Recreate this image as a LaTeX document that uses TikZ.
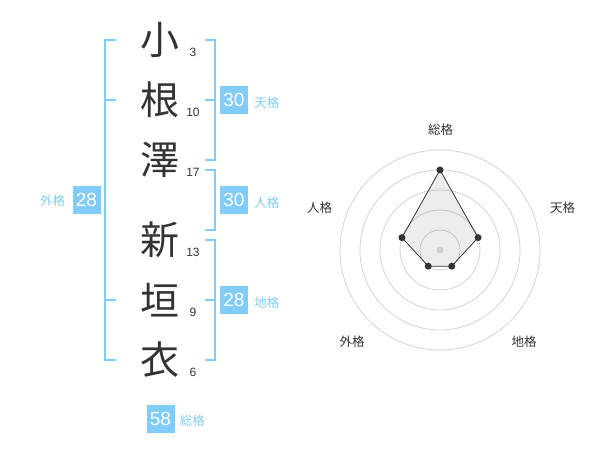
\documentclass[tikz,border=0pt]{standalone}
\usepackage{fontspec}
\setmainfont{Liberation Sans}
\newfontfamily\jpfont{Noto Sans CJK JP}
\usetikzlibrary{positioning}
\definecolor{kakublue}{RGB}{128,204,250}
\definecolor{inkgray}{RGB}{51,51,51}
\definecolor{ringgray}{RGB}{210,210,210}

\begin{document}
\begin{tikzpicture}[x=1pt,y=-1pt]

%
% Styles
%
\tikzstyle{kanji}   = [font=\jpfont\fontsize{39}{39}\selectfont,text=inkgray,inner sep=0pt]
\tikzstyle{strokes} = [font=\fontsize{12}{12}\selectfont,text=inkgray,inner sep=0pt]
\tikzstyle{score}   = [fill=kakublue,text=white,minimum size=28pt,inner sep=0pt,font=\fontsize{19}{19}\selectfont]
\tikzstyle{kaku}    = [text=kakublue,font=\jpfont\fontsize{12.5}{12.5}\selectfont,inner sep=0pt]
\tikzstyle{bracket} = [draw=kakublue,line width=2pt]
\tikzstyle{ring}    = [draw=ringgray,line width=0.8pt]
\tikzstyle{dot}     = [circle,fill=inkgray,minimum size=7pt,inner sep=0pt]
\tikzstyle{axis}    = [text=inkgray,font=\jpfont\fontsize{12.5}{12.5}\selectfont,inner sep=0pt]

\useasboundingbox (0,0) rectangle (600,470);

% name
\node[kanji] (k1) at (160,40)  {小};
\node[kanji] (k2) at (160,100) {根};
\node[kanji] (k3) at (160,160) {澤};
\node[kanji] (k4) at (160,240) {新};
\node[kanji] (k5) at (160,300) {垣};
\node[kanji] (k6) at (160,360) {衣};

\node[strokes] (s1) at (193,52.5)  {3};
\node[strokes] (s2) at (193,112.5) {10};
\node[strokes] (s3) at (193,172.5) {17};
\node[strokes] (s4) at (193,252.5) {13};
\node[strokes] (s5) at (193,312.5) {9};
\node[strokes] (s6) at (193,372.5) {6};

% brackets
\draw[bracket] (116,40) -| (105,360) -- (116,360);
\draw[bracket] (105,100) -- (116,100);
\draw[bracket] (105,300) -- (116,300);
\draw[bracket] (205,40) -| (215,160) -- (205,160);
\draw[bracket] (205,100) -- (215,100);
\draw[bracket] (205,170) -| (215,230) -- (205,230);
\draw[bracket] (205,240) -| (215,360) -- (205,360);
\draw[bracket] (205,300) -- (215,300);

% scores
\node[score] (ten)  at (234,100)   {30};
\node[score] (jin)  at (234,200)   {30};
\node[score] (chi)  at (234,300)   {28};
\node[score] (gai)  at (86.5,200)  {28};
\node[score] (sou)  at (160.5,419) {58};

\node[kaku,right=6pt of ten,yshift=-3pt] (tenl) {天格};
\node[kaku,right=6pt of jin,yshift=-3pt] (jinl) {人格};
\node[kaku,right=6pt of chi,yshift=-3pt] (chil) {地格};
\node[kaku,left=7pt of gai,yshift=-1pt]  (gail) {外格};
\node[kaku,right=5pt of sou,yshift=-2pt] (soul) {総格};

% radar
\coordinate (C) at (440,250);
\foreach \r in {20,40,60,80,100}
  \draw[ring] (C) circle[radius=\r pt];

\coordinate (v1) at ([shift={(90:80pt)}]C);
\coordinate (v2) at ([shift={(18:40pt)}]C);
\coordinate (v3) at ([shift={(-54:20pt)}]C);
\coordinate (v4) at ([shift={(-126:20pt)}]C);
\coordinate (v5) at ([shift={(162:40pt)}]C);

\draw[inkgray,fill=black,fill opacity=0.07,line width=0.8pt] (v1) -- (v2) -- (v3) -- (v4) -- (v5) -- cycle;
\node[circle,fill=ringgray,minimum size=7pt,inner sep=0pt] (mid) at (C) {};
\foreach \i in {1,...,5}
  \node[dot] (p\i) at (v\i) {};

\node[axis] (a1) at (440.5,130) {総格};
\node[axis] (a2) at (562.5,208) {天格};
\node[axis] (a3) at (524,342)   {地格};
\node[axis] (a4) at (352,342)   {外格};
\node[axis] (a5) at (319.5,208) {人格};

\end{tikzpicture}
\end{document}
